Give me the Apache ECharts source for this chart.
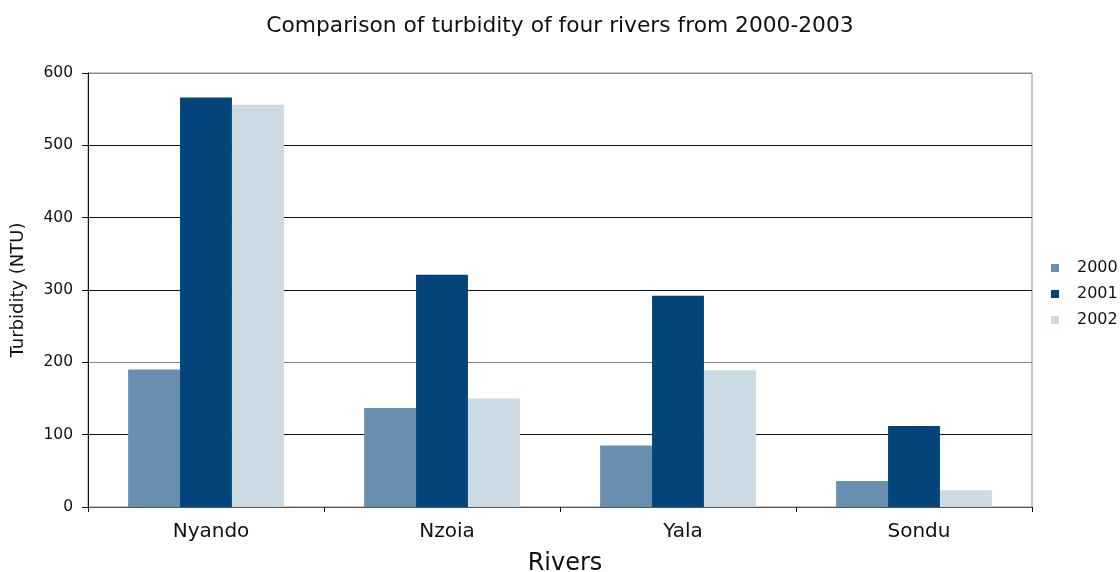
<!DOCTYPE html>
<html>
<head>
<meta charset="utf-8">
<title>Turbidity of four rivers</title>
<script src="https://cdn.jsdelivr.net/npm/echarts@6/dist/echarts.min.js"></script>
<style>
  html, body { margin: 0; padding: 0; background: #ffffff; }
  #chart { width: 1120px; height: 572px; }
</style>
</head>
<body>
<div id="chart"></div>
<script>
// Rivers on the category axis
const rivers = ['Nyando', 'Nzoia', 'Yala', 'Sondu'];
// Turbidity (NTU) per year, one value per river
const years = ['2000', '2001', '2002'];
const turbidity2000 = [190, 137, 85, 36];
const turbidity2001 = [566, 321, 292, 112];
const turbidity2002 = [556, 150, 189, 23];
// Value axis ticks
const yMin = 0, yMax = 600, yStep = 100;

const yearColors = ['#688faf', '#03457a', '#ccdae4'];
const font = 'DejaVu Sans, Liberation Sans, sans-serif';

const chart = echarts.init(document.getElementById('chart'), null, { renderer: 'canvas' });

const seriesValues = [turbidity2000, turbidity2001, turbidity2002];

chart.setOption({
  animation: false,
  backgroundColor: '#ffffff',
  title: {
    text: 'Comparison of turbidity of four rivers from 2000-2003',
    left: 'center',
    top: 10,
    padding: [5, 5, 5, 12],
    textStyle: { fontFamily: font, fontSize: 21.75, fontWeight: 'normal', color: '#111' }
  },
  legend: {
    orient: 'vertical',
    left: 1046,
    top: 255,
    itemWidth: 8,
    itemHeight: 8,
    itemGap: 10,
    icon: 'rect',
    data: years,
    textStyle: { fontFamily: font, fontSize: 16, color: '#111', padding: [0, 0, 0, 13] }
  },
  grid: {
    left: 88, right: 88, top: 73, bottom: 65,
    outerBoundsMode: 'none',
    containLabel: false,
    show: true, borderColor: '#8a8a8a', borderWidth: 1
  },
  xAxis: {
    type: 'category',
    data: rivers,
    name: 'Rivers',
    nameLocation: 'middle',
    nameGap: 45,
    nameTextStyle: { fontFamily: font, fontSize: 24, color: '#111', padding: [0, 0, 0, 10] },
    axisLine: { show: true, lineStyle: { color: '#555', width: 1 } },
    axisTick: { show: true, alignWithLabel: false, length: 5, lineStyle: { color: '#111' } },
    axisLabel: { fontFamily: font, fontSize: 20, color: '#111', margin: 15, padding: [0, 0, 0, 10] },
    splitLine: { show: false }
  },
  yAxis: {
    type: 'value',
    min: yMin, max: yMax, interval: yStep,
    name: 'Turbidity (NTU)',
    nameLocation: 'middle',
    nameGap: 61,
    nameTextStyle: { fontFamily: font, fontSize: 18, color: '#111' },
    axisLine: { show: true, lineStyle: { color: '#111', width: 1 } },
    axisTick: { show: true, length: 6, lineStyle: { color: '#111' } },
    axisLabel: { fontFamily: font, fontSize: 15.5, color: '#111', margin: 15 },
    splitLine: {
      show: true,
      lineStyle: { color: ['#555', '#111', '#888', '#111', '#111', '#111', '#8a8a8a'], width: 1 }
    }
  },
  series: years.map((year, i) => ({
    name: year,
    type: 'bar',
    data: seriesValues[i],
    barGap: '0%',
    barCategoryGap: '34%',
    itemStyle: { color: yearColors[i] }
  }))
});
</script>
</body>
</html>
